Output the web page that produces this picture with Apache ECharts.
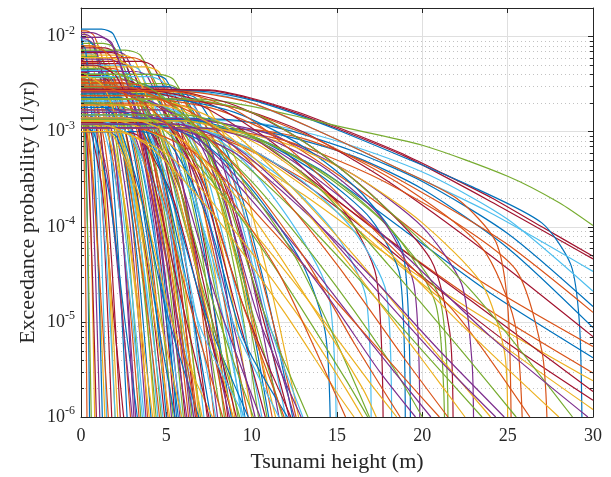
<!DOCTYPE html>
<html><head><meta charset="utf-8">
<script src="https://cdn.jsdelivr.net/npm/echarts@6/dist/echarts.min.js"></script>
<style>html,body{margin:0;padding:0;background:#fff}#c{width:611px;height:477px}</style>
</head><body><div id="c"></div>
<script>
const xTicks = [0, 5, 10, 15, 20, 25, 30];
const yDecadeExps = [-6, -5, -4, -3, -2];
const yMinorTicks = [2e-6,3e-6,4e-6,5e-6,6e-6,7e-6,8e-6,9e-6,2e-5,3e-5,4e-5,5e-5,6e-5,7e-5,8e-5,9e-5,2e-4,3e-4,4e-4,5e-4,6e-4,7e-4,8e-4,9e-4,2e-3,3e-3,4e-3,5e-3,6e-3,7e-3,8e-3,9e-3];

const steepCurves = [
[[0,1.2e-2],[1.2,1.2e-2],[1.9,1.06e-2],[3.2,2.4e-3],[4.5,1.2e-4],[5.6,1e-6]],
[[0,1.15e-2],[0.3,1.15e-2],[0.8,1.0e-2],[1.9,2.3e-3],[3.0,1.15e-4],[3.9,1e-6]],
[[0,1.1e-2],[0.1,1.1e-2],[0.4,9.7e-3],[1.0,2.2e-3],[1.5,1.1e-4],[2.0,1e-6]],
[[0,9.5e-3],[0.2,9.5e-3],[0.7,8.4e-3],[1.8,1.9e-3],[2.9,9.5e-5],[3.8,1e-6]],
[[0,8.5e-3],[1.3,8.5e-3],[2.0,7.5e-3],[3.4,1.7e-3],[4.8,8.5e-5],[6.0,1e-6]],
[[0,6.6e-3],[0.5,6.6e-3],[1.1,5.8e-3],[2.3,1.3e-3],[3.5,6.6e-5],[4.5,1e-6]],
[[0,5.6e-3],[0.1,5.6e-3],[0.35,4.9e-3],[0.9,1.1e-3],[1.4,5.6e-5],[1.8,1e-6]],
[[0,1.0e-2],[0.08,8.8e-3],[0.23,2.0e-3],[0.38,1.0e-4],[0.5,1e-6]],
[[0,4.8e-3],[0.05,4.2e-3],[0.16,9.6e-4],[0.26,4.8e-5],[0.35,1e-6]],
[[0,7.5e-3],[0.12,6.6e-3],[0.36,1.5e-3],[0.6,7.5e-5],[0.8,1e-6]],
[[0,3.2e-3],[0.1,3.2e-3],[0.25,2.8e-3],[0.55,6.4e-4],[0.85,3.2e-5],[1.1,1e-6]],
[[0,2.5e-3],[0.09,2.2e-3],[0.27,5.0e-4],[0.45,2.5e-5],[0.6,1e-6]],
[[0,6.0e-3],[0.2,6.0e-3],[0.4,5.3e-3],[0.8,1.2e-3],[1.2,6.0e-5],[1.5,1e-6]],
[[0,4.2e-3],[0.3,4.2e-3],[0.6,3.7e-3],[1.2,8.4e-4],[1.8,4.2e-5],[2.3,1e-6]],
[[0,9.0e-3],[0.4,9.0e-3],[0.75,7.9e-3],[1.45,1.8e-3],[2.1,9.0e-5],[2.7,1e-6]],
[[0,3.6e-3],[0.2,3.6e-3],[0.6,3.2e-3],[1.4,7.2e-4],[2.2,3.6e-5],[2.9,1e-6]],
[[0,1.8e-3],[0.1,1.8e-3],[0.3,1.6e-3],[0.7,3.6e-4],[1.1,1.8e-5],[1.4,1e-6]],
[[0,5.0e-3],[0.6,5.0e-3],[1.0,4.4e-3],[1.8,1.0e-3],[2.55,5.0e-5],[3.2,1e-6]],
[[0,7.0e-3],[0.5,7.0e-3],[0.95,6.2e-3],[1.85,1.4e-3],[2.75,7.0e-5],[3.5,1e-6]],
[[0,2.2e-3],[0.3,2.2e-3],[0.55,1.9e-3],[1.05,4.4e-4],[1.6,2.2e-5],[2.0,1e-6]],
[[0,1.2e-3],[0.2,1.2e-3],[0.55,1.06e-3],[1.25,2.4e-4],[1.9,1.2e-5],[2.5,1e-6]],
[[0,4.5e-3],[0.8,4.5e-3],[1.3,4.0e-3],[2.3,9.0e-4],[3.3,4.5e-5],[4.1,1e-6]],
[[0,3.0e-3],[0.5,3.0e-3],[0.95,2.6e-3],[1.8,6.0e-4],[2.7,3.0e-5],[3.4,1e-6]],
[[0,8.0e-3],[0.9,8.0e-3],[1.4,7.0e-3],[2.4,1.6e-3],[3.45,8.0e-5],[4.3,1e-6]],
[[0,1.5e-3],[0.4,1.5e-3],[0.8,1.3e-3],[1.6,3.0e-4],[2.35,1.5e-5],[3.0,1e-6]],
[[0,6.2e-3],[0.7,6.2e-3],[1.3,5.5e-3],[2.5,1.24e-3],[3.7,6.2e-5],[4.7,1e-6]],
[[0,2.8e-3],[0.6,2.8e-3],[1.05,2.5e-3],[2.0,5.6e-4],[2.9,2.8e-5],[3.7,1e-6]],
[[0,3.9e-3],[1.0,3.9e-3],[1.6,3.4e-3],[2.75,7.8e-4],[3.9,3.9e-5],[4.9,1e-6]],
[[0,1.1e-3],[0.3,1.1e-3],[0.75,9.7e-4],[1.65,2.2e-4],[2.55,1.1e-5],[3.3,1e-6]],
[[0,5.3e-3],[1.1,5.3e-3],[1.7,4.7e-3],[2.9,1.06e-3],[4.1,5.3e-5],[5.1,1e-6]],
[[0,2.0e-3],[0.8,2.0e-3],[1.3,1.76e-3],[2.25,4.0e-4],[3.2,2.0e-5],[4.0,1e-6]],
[[0,9.8e-3],[1.2,9.8e-3],[1.8,8.6e-3],[3.05,2.0e-3],[4.3,9.8e-5],[5.3,1e-6]],
[[0,3.4e-3],[1.0,3.4e-3],[1.5,3.0e-3],[2.5,6.8e-4],[3.55,3.4e-5],[4.4,1e-6]],
[[0,1.6e-3],[0.7,1.6e-3],[1.15,1.4e-3],[2.0,3.2e-4],[2.9,1.6e-5],[3.6,1e-6]],
[[0,7.6e-3],[1.4,7.6e-3],[2.0,6.7e-3],[3.25,1.5e-3],[4.5,7.6e-5],[5.5,1e-6]],
[[0,4.0e-3],[1.3,4.0e-3],[1.85,3.5e-3],[2.95,8.0e-4],[4.1,4.0e-5],[5.0,1e-6]],
[[0,2.4e-3],[1.0,2.4e-3],[1.55,2.1e-3],[2.6,4.8e-4],[3.7,2.4e-5],[4.6,1e-6]],
[[0,1.3e-3],[0.9,1.3e-3],[1.4,1.14e-3],[2.4,2.6e-4],[3.4,1.3e-5],[4.2,1e-6]],
[[0,5.8e-3],[1.6,5.8e-3],[2.25,5.1e-3],[3.5,1.16e-3],[4.75,5.8e-5],[5.8,1e-6]],
[[0,3.1e-3],[1.5,3.1e-3],[2.1,2.7e-3],[3.25,6.2e-4],[4.4,3.1e-5],[5.4,1e-6]],
[[0,1.9e-3],[1.2,1.9e-3],[1.75,1.7e-3],[2.8,3.8e-4],[3.9,1.9e-5],[4.8,1e-6]],
[[0,6.8e-3],[1.8,6.8e-3],[2.45,6.0e-3],[3.75,1.36e-3],[5.0,6.8e-5],[6.1,1e-6]],
[[0,2.6e-3],[1.6,2.6e-3],[2.2,2.3e-3],[3.45,5.2e-4],[4.7,2.6e-5],[5.7,1e-6]],
[[0,4.6e-3],[1.9,4.6e-3],[2.55,4.0e-3],[3.9,9.2e-4],[5.2,4.6e-5],[6.3,1e-6]],
[[0,1.4e-3],[1.3,1.4e-3],[1.9,1.23e-3],[3.05,2.8e-4],[4.2,1.4e-5],[5.2,1e-6]],
[[0,7.0e-3],[2.0,7.0e-3],[2.65,6.2e-3],[4.0,1.4e-3],[5.3,7.0e-5],[6.4,1e-6]],
[[0,3.7e-3],[2.1,3.7e-3],[2.75,3.3e-3],[4.1,7.4e-4],[5.4,3.7e-5],[6.5,1e-6]],
[[0,2.1e-3],[1.7,2.1e-3],[2.35,1.85e-3],[3.6,4.2e-4],[4.85,2.1e-5],[5.9,1e-6]],
[[0,5.2e-3],[2.3,5.2e-3],[2.95,4.6e-3],[4.3,1.04e-3],[5.6,5.2e-5],[6.7,1e-6]],
[[0,1.0e-3],[1.5,1.0e-3],[2.1,8.8e-4],[3.3,2.0e-4],[4.5,1.0e-5],[5.5,1e-6]],
[[0,3.3e-3],[2.4,3.3e-3],[3.05,2.9e-3],[4.4,6.6e-4],[5.7,3.3e-5],[6.8,1e-6]],
[[0,6.4e-3],[2.5,6.4e-3],[3.15,5.6e-3],[4.5,1.28e-3],[5.8,6.4e-5],[6.9,1e-6]],
[[0,1.7e-3],[2.0,1.7e-3],[2.65,1.5e-3],[3.9,3.4e-4],[5.15,1.7e-5],[6.2,1e-6]],
[[0,2.9e-3],[2.6,2.9e-3],[3.25,2.55e-3],[4.6,5.8e-4],[5.9,2.9e-5],[7.0,1e-6]],
[[0,4.4e-3],[2.2,4.4e-3],[2.85,3.9e-3],[4.2,8.8e-4],[5.5,4.4e-5],[6.6,1e-6]],
[[0,2.7e-3],[0.14,2.4e-3],[0.4,5.4e-4],[0.68,2.7e-5],[0.9,1e-6]],
[[0,8.2e-3],[0.1,8.2e-3],[0.27,7.2e-3],[0.62,1.64e-3],[0.96,8.2e-5],[1.25,1e-6]],
[[0,1.4e-3],[0.24,1.23e-3],[0.72,2.8e-4],[1.2,1.4e-5],[1.6,1e-6]],
[[0,4.1e-3],[0.2,4.1e-3],[0.5,3.6e-3],[1.08,8.2e-4],[1.66,4.1e-5],[2.15,1e-6]],
[[0,1.05e-2],[0.3,1.05e-2],[0.72,9.2e-3],[1.56,2.1e-3],[2.4,1.05e-4],[3.1,1e-6]]
];

const mediumCurves = [
[[0,7.2e-3],[2.6,7.2e-3],[3.5,6.3e-3],[5.2,1.44e-3],[6.95,7.2e-5],[8.4,1e-6]],
[[0,5.0e-3],[2.8,5.0e-3],[3.45,4.4e-3],[4.8,1.0e-3],[6.1,5.0e-5],[7.2,1e-6]],
[[0,3.5e-3],[2.5,3.5e-3],[3.25,3.1e-3],[4.7,7.0e-4],[6.2,3.5e-5],[7.4,1e-6]],
[[0,2.3e-3],[2.2,2.3e-3],[3.0,2.0e-3],[4.6,4.6e-4],[6.25,2.3e-5],[7.6,1e-6]],
[[0,6.0e-3],[3.0,6.0e-3],[3.7,5.3e-3],[5.15,1.2e-3],[6.6,6.0e-5],[7.8,1e-6]],
[[0,1.2e-3],[2.0,1.2e-3],[2.75,1.06e-3],[4.3,2.4e-4],[5.8,1.2e-5],[7.1,1e-6]],
[[0,4.3e-3],[3.2,4.3e-3],[3.9,3.8e-3],[5.35,8.6e-4],[6.8,4.3e-5],[8.0,1e-6]],
[[0,2.7e-3],[3.0,2.7e-3],[3.8,2.4e-3],[5.35,5.4e-4],[6.9,2.7e-5],[8.2,1e-6]],
[[0,1.6e-3],[2.7,1.6e-3],[3.5,1.4e-3],[5.05,3.2e-4],[6.6,1.6e-5],[7.9,1e-6]],
[[0,5.5e-3],[3.5,5.5e-3],[4.25,4.8e-3],[5.8,1.1e-3],[7.3,5.5e-5],[8.6,1e-6]],
[[0,3.2e-3],[3.4,3.2e-3],[4.2,2.8e-3],[5.85,6.4e-4],[7.45,3.2e-5],[8.8,1e-6]],
[[0,1.9e-3],[3.1,1.9e-3],[3.9,1.7e-3],[5.55,3.8e-4],[7.15,1.9e-5],[8.5,1e-6]],
[[0,4.8e-3],[3.8,4.8e-3],[4.6,4.2e-3],[6.15,9.6e-4],[7.7,4.8e-5],[9.0,1e-6]],
[[0,1.3e-3],[3.0,1.3e-3],[3.85,1.14e-3],[5.55,2.6e-4],[7.3,1.3e-5],[8.7,1e-6]],
[[0,2.5e-3],[3.6,2.5e-3],[4.45,2.2e-3],[6.1,5.0e-4],[7.8,2.5e-5],[9.2,1e-6]],
[[0,3.8e-3],[4.0,3.8e-3],[4.8,3.3e-3],[6.45,7.6e-4],[8.05,3.8e-5],[9.4,1e-6]],
[[0,1.1e-3],[3.3,1.1e-3],[4.15,9.7e-4],[5.9,2.2e-4],[7.65,1.1e-5],[9.1,1e-6]],
[[0,4.0e-3],[4.2,4.0e-3],[5.0,3.5e-3],[6.65,8.0e-4],[8.25,4.0e-5],[9.6,1e-6]],
[[0,2.0e-3],[3.9,2.0e-3],[4.8,1.76e-3],[6.55,4.0e-4],[8.3,2.0e-5],[9.8,1e-6]],
[[0,3.0e-3],[4.3,3.0e-3],[5.15,2.6e-3],[6.85,6.0e-4],[8.6,3.0e-5],[10.0,1e-6]],
[[0,1.5e-3],[4.0,1.5e-3],[4.95,1.3e-3],[6.8,3.0e-4],[8.65,1.5e-5],[10.2,1e-6]],
[[0,4.0e-3],[4.6,4.0e-3],[5.45,3.5e-3],[7.2,8.0e-4],[8.95,4.0e-5],[10.4,1e-6]],
[[0,2.2e-3],[4.4,2.2e-3],[5.35,1.9e-3],[7.2,4.4e-4],[9.05,2.2e-5],[10.6,1e-6]],
[[0,1.25e-3],[4.2,1.25e-3],[5.2,1.1e-3],[7.15,2.5e-4],[9.15,1.25e-5],[10.8,1e-6]],
[[0,3.0e-3],[5.0,3.0e-3],[5.9,2.6e-3],[7.7,6.0e-4],[9.5,3.0e-5],[11.0,1e-6]],
[[0,2.8e-3],[4.8,2.8e-3],[5.75,2.5e-3],[7.7,5.6e-4],[9.6,2.8e-5],[11.2,1e-6]],
[[0,1.7e-3],[4.6,1.7e-3],[5.6,1.5e-3],[7.65,3.4e-4],[9.7,1.7e-5],[11.4,1e-6]],
[[0,2.9e-3],[5.2,2.9e-3],[6.15,2.55e-3],[8.1,5.8e-4],[10.0,2.9e-5],[11.6,1e-6]],
[[0,1.15e-3],[4.9,1.15e-3],[5.95,1.0e-3],[8.0,2.3e-4],[10.1,1.15e-5],[11.8,1e-6]],
[[0,2.4e-3],[5.4,2.4e-3],[6.4,2.1e-3],[8.35,4.8e-4],[10.35,2.4e-5],[12.0,1e-6]],
[[0,1.4e-3],[5.3,1.4e-3],[6.35,1.23e-3],[8.4,2.8e-4],[10.5,1.4e-5],[12.2,1e-6]],
[[0,2.5e-3],[5.8,2.5e-3],[6.8,2.2e-3],[8.75,5.0e-4],[10.75,2.5e-5],[12.4,1e-6]],
[[0,1.9e-3],[5.6,1.9e-3],[6.65,1.7e-3],[8.75,3.8e-4],[10.85,1.9e-5],[12.6,1e-6]],
[[0,2.6e-3],[6.0,2.6e-3],[7.0,2.3e-3],[9.05,5.2e-4],[11.05,2.6e-5],[12.75,1e-6]],
[[0,1.2e-3],[5.5,1.2e-3],[6.55,1.06e-3],[8.65,2.4e-4],[10.75,1.2e-5],[12.5,1e-6]],
[[0,3.2e-3],[4.8,3.2e-3],[5.7,2.8e-3],[7.5,6.4e-4],[9.3,3.2e-5],[10.9,1e-6]],
[[0,2.1e-3],[3.5,2.1e-3],[4.4,1.85e-3],[6.2,4.2e-4],[8.0,2.1e-5],[9.5,1e-6]],
[[0,1.0e-3],[2.5,1.0e-3],[3.45,8.8e-4],[5.4,2.0e-4],[7.3,1.0e-5],[8.9,1e-6]],
[[0,1.8e-3],[1.5,1.8e-3],[3.2,1.35e-3],[5.2,2.25e-4],[7.3,1.2e-5],[9.8,1e-6]],
[[0,3.5e-3],[1.0,3.5e-3],[2.5,2.6e-3],[4.3,4.4e-4],[6.1,2.3e-5],[8.3,1e-6]],
[[0,1.2e-3],[0.5,1.2e-3],[1.9,9.0e-4],[3.7,1.5e-4],[5.5,8.0e-6],[7.7,1e-6]],
[[0,2.6e-3],[2.0,2.6e-3],[3.7,1.95e-3],[5.8,3.2e-4],[7.95,1.7e-5],[10.5,1e-6]],
[[0,4.6e-3],[1.2,4.6e-3],[2.8,3.45e-3],[4.85,5.8e-4],[6.9,3.1e-5],[9.3,1e-6]],
[[0,1.5e-3],[2.5,1.5e-3],[4.3,1.1e-3],[6.6,1.9e-4],[8.9,1.0e-5],[11.6,1e-6]],
[[0,2.2e-3],[3.0,2.2e-3],[4.85,1.65e-3],[7.2,2.75e-4],[9.5,1.5e-5],[12.3,1e-6]],
[[0,1.0e-3],[3.5,1.0e-3],[5.2,7.5e-4],[7.4,1.25e-4],[9.5,6.7e-6],[12.1,1e-6]],
[[0,3.2e-3],[2.8,3.2e-3],[4.6,2.4e-3],[6.9,4.0e-4],[9.2,2.1e-5],[11.9,1e-6]],
[[0,6.0e-3],[1.6,6.0e-3],[3.05,4.5e-3],[4.9,7.5e-4],[6.7,4.0e-5],[8.9,1e-6]],
[[0,1.7e-3],[4.5,1.7e-3],[6.2,1.3e-3],[8.3,2.1e-4],[10.4,1.1e-5],[12.9,1e-6]],
[[0,2.9e-3],[1.8,2.9e-3],[3.5,2.2e-3],[5.5,3.6e-4],[7.6,1.9e-5],[10.1,1e-6]],
[[0,1.3e-3],[1.0,1.3e-3],[2.7,9.8e-4],[4.9,1.6e-4],[7.0,8.7e-6],[9.6,1e-6]],
[[0,5.0e-3],[0.8,5.0e-3],[2.1,3.75e-3],[3.8,6.2e-4],[5.5,3.3e-5],[7.5,1e-6]],
[[0,2.0e-3],[0.6,2.0e-3],[1.9,1.5e-3],[3.4,2.5e-4],[5.0,1.3e-5],[6.9,1e-6]],
[[0,8.0e-3],[0.5,8.0e-3],[1.8,6.0e-3],[3.3,1.0e-3],[4.9,5.3e-5],[6.8,1e-6]],
[[0,3.8e-3],[0.3,3.8e-3],[1.4,2.85e-3],[2.8,4.75e-4],[4.2,2.5e-5],[5.9,1e-6]],
[[0,1.1e-2],[0.6,1.1e-2],[1.8,8.2e-3],[3.3,1.4e-3],[4.8,7.3e-5],[6.6,1e-6]],
[[0,2.4e-3],[4.0,2.4e-3],[5.9,1.8e-3],[8.2,3.0e-4],[10.5,1.6e-5],[13.3,1e-6]],
[[0,1.4e-3],[6.5,1.4e-3],[7.8,1.05e-3],[9.4,1.75e-4],[11.05,9.3e-6],[13.0,1e-6]]
];

const longCurves = [
[[0,2.8e-3],[7.5,2.75e-3],[10,2.25e-3],[12.5,1.65e-3],[15,1.12e-3],[18.7,6.0e-4],[21,3.8e-4],[24.1,2.0e-4],[27,1.0e-4],[30,4.9e-5]],
[[0,2.75e-3],[7.5,2.7e-3],[10,2.2e-3],[12.5,1.6e-3],[15,1.08e-3],[19,5.5e-4],[24,1.85e-4],[30,4.6e-5]],
[[0,2.7e-3],[7,2.65e-3],[10,2.15e-3],[12.5,1.55e-3],[15,1.05e-3],[19,5.3e-4],[23,2.6e-4],[27,1.1e-4],[28.7,4.0e-5],[29.2,1.0e-5],[29.35,1e-6]],
[[0,2.2e-3],[7,2.2e-3],[10,1.85e-3],[13,1.4e-3],[15,1.15e-3],[20,7.2e-4],[25,3.4e-4],[28,1.8e-4],[30,1.03e-4]],
[[0,1.35e-3],[9,1.3e-3],[12,1.1e-3],[16,7.0e-4],[20.4,3.5e-4],[25,1.2e-4],[30,2.1e-5]],
[[0,1.4e-3],[8.5,1.35e-3],[12,1.05e-3],[16,6.2e-4],[20,3.0e-4],[25,8.5e-5],[30,1.45e-5]],
[[0,1.1e-3],[9,1.08e-3],[12,9.0e-4],[16,5.5e-4],[20,2.5e-4],[25,6.0e-5],[30,8.7e-6]],
[[0,1.1e-3],[10,1.05e-3],[13,8.5e-4],[17,4.5e-4],[21,1.8e-4],[25,6.5e-5],[30,1.26e-5]],
[[0,2.7e-3],[7,2.6e-3],[10,2.0e-3],[14,1.0e-3],[18,4.6e-4],[24,1.4e-4],[30,3.4e-5]],
[[0,2.2e-3],[5,2.2e-3],[9,1.8e-3],[13,1.0e-3],[18,3.0e-4],[24,5.0e-5],[30,7.0e-6]],
[[0,2.2e-3],[4,2.2e-3],[8,1.7e-3],[12,8.0e-4],[17,2.0e-4],[23,3.0e-5],[30,5.5e-6]],
[[0,1.3e-3],[6,1.28e-3],[10,9.0e-4],[14,4.0e-4],[19,9.0e-5],[24,2.0e-5],[30,4.2e-6]],
[[0,1.1e-3],[5,1.1e-3],[9,7.5e-4],[14,2.5e-4],[19,5.5e-5],[24,1.3e-5],[30,2.9e-6]],
[[0,1.3e-3],[4,1.3e-3],[8,8.0e-4],[13,2.2e-4],[18,5.0e-5],[24,1.0e-5],[30,2.4e-6]],
[[0,2.7e-3],[3,2.7e-3],[7,1.9e-3],[12,5.0e-4],[17,1.0e-4],[23,1.6e-5],[30,1.85e-6]],
[[0,1.1e-3],[6,1.1e-3],[10,6.5e-4],[15,1.6e-4],[20,3.0e-5],[25,6.0e-6],[30,1.5e-6]],
[[0,1.3e-3],[5,1.3e-3],[9,8.0e-4],[14,2.0e-4],[19,3.5e-5],[24,7.0e-6],[30,1.2e-6]],
[[0,2.7e-3],[6,2.65e-3],[10,2.0e-3],[14,1.0e-3],[18,4.6e-4],[22,2.0e-4],[24.3,7.0e-5],[25,1.5e-5],[25.2,1e-6]],
[[0,2.2e-3],[5,2.2e-3],[9,1.8e-3],[14,8.0e-4],[19,2.6e-4],[23.5,6.0e-5],[25.4,1.0e-5],[25.85,1e-6]],
[[0,1.35e-3],[7,1.3e-3],[11,9.5e-4],[16,3.5e-4],[20,1.0e-4],[22.3,2.5e-5],[22.9,4.0e-6],[23.0,1e-6]],
[[0,1.1e-3],[8,1.05e-3],[12,8.0e-4],[17,3.5e-4],[22,1.1e-4],[25.5,3.5e-5],[27,5.0e-6],[27.3,1e-6]],
[[0,1.2e-3],[4,1.2e-3],[7,8.0e-4],[10,2.5e-4],[13,4.0e-5],[14.3,8.0e-6],[14.6,1e-6]],
[[0,2.2e-3],[3,2.2e-3],[6,1.5e-3],[9.5,5.0e-4],[12.5,1.0e-4],[14.5,2.0e-5],[14.95,1e-6]],
[[0,1.3e-3],[5,1.3e-3],[8,9.0e-4],[12,3.0e-4],[15,8.0e-5],[16.7,1.8e-5],[17.0,1e-6]],
[[0,2.7e-3],[4,2.7e-3],[8,1.8e-3],[12,6.0e-4],[15.5,1.4e-4],[17.3,3.0e-5],[17.7,1e-6]],
[[0,1.1e-3],[6,1.1e-3],[9,8.0e-4],[13,3.0e-4],[16,9.0e-5],[17.9,2.0e-5],[18.2,1e-6]],
[[0,1.35e-3],[6,1.35e-3],[10,9.0e-4],[14,3.5e-4],[17,1.2e-4],[18.7,3.0e-5],[19.0,1e-6]],
[[0,2.2e-3],[5,2.2e-3],[9,1.6e-3],[13,7.0e-4],[16.5,2.2e-4],[18.9,5.0e-5],[19.3,1e-6]],
[[0,1.1e-3],[7,1.1e-3],[11,7.5e-4],[15,3.0e-4],[18.5,8.0e-5],[20.8,1.5e-5],[21.3,1e-6]],
[[0,1.3e-3],[6,1.3e-3],[10,9.0e-4],[14,3.8e-4],[18,1.0e-4],[21,1.8e-5],[21.5,1e-6]],
[[0,1.1e-3],[8,1.05e-3],[12,7.5e-4],[16,3.5e-4],[20,1.1e-4],[23.5,2.5e-5],[24.8,5.0e-6],[25.0,1e-6]],
[[0,1.4e-3],[7,1.35e-3],[10,1.0e-3],[14,4.5e-4],[17.5,1.3e-4],[19.5,2.5e-5],[19.85,1e-6]],
[[0,2.7e-3],[5,2.7e-3],[9,1.9e-3],[13,8.0e-4],[17,2.2e-4],[20.5,4.5e-5],[21.6,8.0e-6],[21.8,1e-6]],
[[0,2.2e-3],[3,2.2e-3],[6,1.4e-3],[10,3.0e-4],[14,4.0e-5],[18,4.0e-6],[20,1e-6]],
[[0,1.3e-3],[2,1.3e-3],[5,8.0e-4],[9,1.5e-4],[13,2.0e-5],[17,2.2e-6],[18.5,1e-6]],
[[0,2.7e-3],[2,2.7e-3],[5,1.7e-3],[9,3.5e-4],[13,5.0e-5],[17,6.0e-6],[20.5,1e-6]],
[[0,1.1e-3],[3,1.1e-3],[7,5.5e-4],[11,1.0e-4],[15,1.6e-5],[19,2.5e-6],[21,1e-6]],
[[0,2.2e-3],[4,2.2e-3],[8,1.3e-3],[12,3.0e-4],[16,5.0e-5],[20,7.0e-6],[24,1e-6]],
[[0,1.35e-3],[4,1.35e-3],[8,7.5e-4],[12,1.8e-4],[16,3.2e-5],[20,5.0e-6],[23.5,1e-6]],
[[0,1.1e-3],[5,1.1e-3],[9,6.0e-4],[13,1.5e-4],[17,3.0e-5],[21,5.0e-6],[24.8,1e-6]],
[[0,2.7e-3],[5,2.7e-3],[9,1.7e-3],[13,5.0e-4],[17,1.0e-4],[22,1.2e-5],[26.3,1e-6]],
[[0,1.3e-3],[6,1.3e-3],[10,8.0e-4],[14,2.5e-4],[18,5.5e-5],[23,7.0e-6],[28,1e-6]],
[[0,2.2e-3],[6,2.2e-3],[10,1.6e-3],[14,6.0e-4],[18,1.5e-4],[23,2.0e-5],[28.8,1e-6]],
[[0,1.1e-3],[7,1.1e-3],[11,7.0e-4],[15,2.2e-4],[19,5.0e-5],[24,7.0e-6],[29.7,1e-6]],
[[0,1.2e-3],[1,1.2e-3],[4,7.0e-4],[8,1.2e-4],[12,1.2e-5],[15,1.8e-6],[16,1e-6]],
[[0,2.0e-3],[1.5,2.0e-3],[4.5,1.2e-3],[8.5,2.0e-4],[12,2.5e-5],[15.5,2.5e-6],[16.8,1e-6]],
[[0,3.0e-3],[2.5,3.0e-3],[5.5,1.8e-3],[9.5,3.5e-4],[13,5.0e-5],[16,6.0e-6],[18.7,1e-6]],
[[0,1.6e-3],[3,1.6e-3],[6.5,8.5e-4],[10.5,1.5e-4],[14.5,1.8e-5],[17.5,3.0e-6],[19.6,1e-6]],
[[0,1.0e-3],[2,1.0e-3],[5.5,5.0e-4],[9.5,7.0e-5],[13,1.0e-5],[15.5,2.0e-6],[16.5,1e-6]],
[[0,4.0e-3],[2,4.0e-3],[5,2.2e-3],[9,4.0e-4],[12.5,5.0e-5],[15,6.0e-6],[16.9,1e-6]],
[[0,2.4e-3],[3.5,2.4e-3],[7,1.4e-3],[11,3.0e-4],[15,4.0e-5],[19,4.0e-6],[21.5,1e-6]],
[[0,1.9e-3],[4.5,1.9e-3],[8,1.1e-3],[12,2.5e-4],[16,3.5e-5],[20,4.0e-6],[22.5,1e-6]],
[[0,1.2e-3],[5.5,1.2e-3],[9,7.0e-4],[13,1.6e-4],[17,2.5e-5],[21,4.0e-6],[24.3,1e-6]],
[[0,1.5e-3],[6,1.5e-3],[10,9.0e-4],[14,2.5e-4],[18,4.0e-5],[22.5,4.5e-6],[25.5,1e-6]],
[[0,3.0e-3],[1,3.0e-3],[4,1.8e-3],[8,3.0e-4],[11.5,3.5e-5],[14,4.0e-6],[15.5,1e-6]],
[[0,1.4e-3],[2.5,1.4e-3],[6,8.0e-4],[10,1.3e-4],[13.5,1.5e-5],[16.5,2.0e-6],[17.3,1e-6]]
];
const longColorIdx = [6,6,0,4,5,0,0,1,5,6,1,0,1,2,6,6,2,1,1,3,1,0,5,5,6,5,0,0,4,4,2,3,6,
  4,2,3,1,2,4,3,1,2,4,3,2,4,1,3,2,4,1,2,3,4,1,2];

const palette = ['#0072BD','#D95319','#EDB120','#7E2F8E','#77AC30','#4DBEEE','#A2142F'];
const FONT = 'Liberation Serif';
const TXT = '#262626';

function lineSeries(data, color) {
  return {type:'line', data:data, showSymbol:false, symbol:'none', smooth:0.25,
    lineStyle:{width:1.2, color:color}, itemStyle:{color:color}, silent:true, z:3,
    emphasis:{disabled:true}, animation:false, clip:true};
}
const series = [];
steepCurves.concat(mediumCurves).forEach((c,i)=>series.push(lineSeries(c, palette[i%7])));
longCurves.forEach((c,i)=>series.push(lineSeries(c, palette[longColorIdx[i]])));

series.push({type:'custom', silent:true, z:1, animation:false,
  data: yMinorTicks.map(v=>[0,v]),
  renderItem:(params, api)=>{
    const v = api.value(1);
    const a = api.coord([0, v]), b = api.coord([30, v]);
    const y = Math.round(a[1]) + 0.5;
    return {type:'line', shape:{x1:a[0], y1:y, x2:b[0], y2:y},
      style:{stroke:'#c2c2c2', lineWidth:1, lineDash:[1,3]}};
  }});
series.push({type:'custom', silent:true, z:20, animation:false,
  data: yMinorTicks.map(v=>[0,v]),
  renderItem:(params, api)=>{
    const v = api.value(1);
    const a = api.coord([0, v]), b = api.coord([30, v]);
    const y = Math.round(a[1]) + 0.5;
    return {type:'group', children:[
      {type:'line', shape:{x1:a[0], y1:y, x2:a[0]+3, y2:y}, style:{stroke:TXT, lineWidth:1}},
      {type:'line', shape:{x1:b[0]-3, y1:y, x2:b[0], y2:y}, style:{stroke:TXT, lineWidth:1}}
    ]};
  }});

function yLabel(v) {
  const e = Math.log10(v);
  const r = Math.round(e);
  if (Math.abs(e - r) > 1e-6 || yDecadeExps.indexOf(r) < 0) return '';
  return '{b|10}{s|' + r + '}';
}

const axisLineStyle = {color:TXT, width:1};
const option = {
  backgroundColor:'#ffffff',
  animation:false,
  color: palette,
  grid:{left:81, right:18, top:8, bottom:60, containLabel:false, outerBoundsMode:'none'},
  xAxis:[
    {type:'value', min:0, max:30, interval:5, position:'bottom',
     axisLine:{show:true, onZero:false, lineStyle:axisLineStyle},
     axisTick:{show:true, inside:true, length:5, lineStyle:axisLineStyle},
     axisLabel:{show:true, margin:10, fontFamily:FONT, fontSize:18, color:TXT,
       formatter:(v)=> xTicks.indexOf(v) >= 0 ? String(v) : ''},
     splitLine:{show:true, lineStyle:{color:'#dfdfdf', width:1}},
     name:'Tsunami height (m)', nameLocation:'middle', nameGap:34,
     nameTextStyle:{fontFamily:FONT, fontSize:22, color:TXT}},
    {type:'value', min:0, max:30, interval:5, position:'top',
     axisLine:{show:true, onZero:false, lineStyle:axisLineStyle},
     axisTick:{show:true, inside:true, length:5, lineStyle:axisLineStyle},
     axisLabel:{show:false}, splitLine:{show:false}}
  ],
  yAxis:[
    {type:'log', logBase:10, min:1e-6, max:0.02, position:'left',
     axisLine:{show:true, onZero:false, lineStyle:axisLineStyle},
     axisTick:{show:true, inside:true, length:5, lineStyle:axisLineStyle},
     axisLabel:{show:true, margin:6, formatter:yLabel, color:TXT,
       rich:{b:{fontFamily:FONT, fontSize:18, color:TXT},
             s:{fontFamily:FONT, fontSize:12, color:TXT, padding:[0,0,12,0]}}},
     splitLine:{show:true, lineStyle:{color:'#dfdfdf', width:1}},
     name:'Exceedance probability (1/yr)', nameLocation:'middle', nameGap:42, nameMoveOverlap:false,
     nameTextStyle:{fontFamily:FONT, fontSize:22, color:TXT}},
    {type:'log', logBase:10, min:1e-6, max:0.02, position:'right',
     axisLine:{show:true, onZero:false, lineStyle:axisLineStyle},
     axisTick:{show:true, inside:true, length:5, lineStyle:axisLineStyle},
     axisLabel:{show:false}, splitLine:{show:false}}
  ],
  series: series
};
const chart = echarts.init(document.getElementById('c'), null, {renderer:'canvas'});
chart.setOption(option);
</script>
</body></html>
